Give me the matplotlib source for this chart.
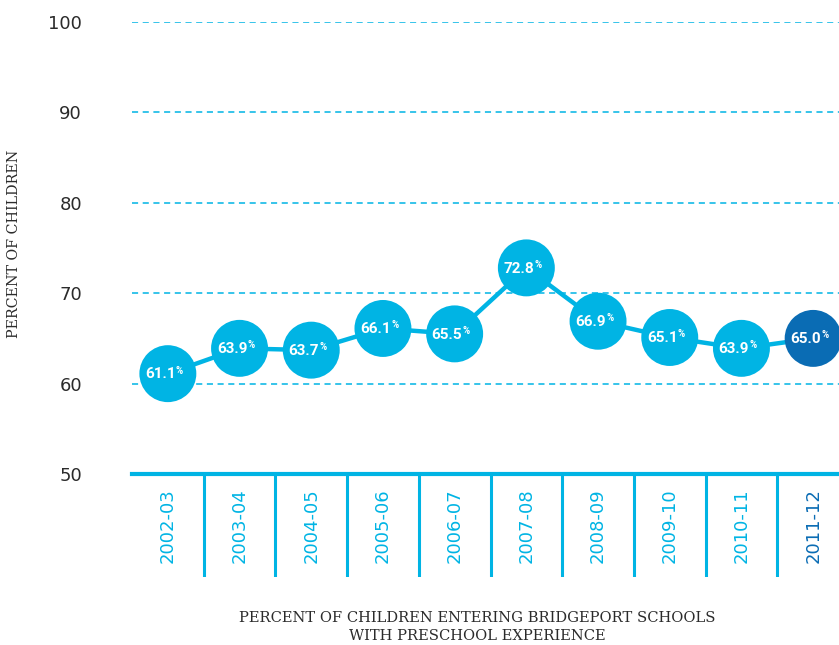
import matplotlib
matplotlib.use("Agg")
import matplotlib.pyplot as plt

years = ["2002-03", "2003-04", "2004-05", "2005-06", "2006-07",
         "2007-08", "2008-09", "2009-10", "2010-11", "2011-12"]
pct = [61.1, 63.9, 63.7, 66.1, 65.5, 72.8, 66.9, 65.1, 63.9, 65.0]
yticks = [50, 60, 70, 80, 90, 100]

CYAN = "#00b4e4"
DARK = "#0a6cb4"
TXT = "#2b2b2b"

W, H = 839, 645
fig = plt.figure(figsize=(W / 100, H / 100), dpi=100)

# main plot area: x from 132px to 849px, y from 22px (100) to 474px (50)
left, right = 132 / W, 849 / W
ax = fig.add_axes([left, (H - 474) / H, right - left, (474 - 22) / H])
ax.set_xlim(-0.5, len(years) - 0.5)
ax.set_ylim(50, 100)

for t in yticks[1:]:
    ax.axhline(t, color=CYAN, lw=1.1, ls=(0, (4, 3)), zorder=1)

xs = list(range(len(years)))
ax.plot(xs, pct, color=CYAN, lw=3.2, zorder=2, clip_on=False)
colors = [CYAN] * (len(years) - 1) + [DARK]
ax.scatter(xs, pct, s=41 ** 2, c=colors, zorder=3, clip_on=False, linewidths=0)

for x, v in zip(xs, pct):
    ax.annotate(f"{v:.1f}", (x, v), xytext=(5.5, -0.5), textcoords="offset points",
                ha="right", va="center", color="white", fontsize=11,
                family="Roboto", fontweight="bold", zorder=4)
    ax.annotate("%", (x, v), xytext=(5.8, 2.2), textcoords="offset points",
                ha="left", va="center", color="white", fontsize=7,
                family="Roboto", fontweight="bold", zorder=4)

ax.set_yticks(yticks)
ax.set_yticklabels([str(t) for t in yticks], fontsize=13, color=TXT)
ax.tick_params(axis="y", length=0, pad=36)
ax.set_xticks([])
for s in ["top", "right", "left"]:
    ax.spines[s].set_visible(False)
ax.spines["bottom"].set_color(CYAN)
ax.spines["bottom"].set_linewidth(3)

fig.text(14 / W, 1 - 244 / H, "PERCENT OF CHILDREN", rotation=90,
         ha="center", va="center", family="DejaVu Serif", fontsize=10.3, color=TXT)

# category band under the axis
band = fig.add_axes([left, (H - 577) / H, right - left, (577 - 475) / H])
band.set_xlim(-0.5, len(years) - 0.5)
band.set_ylim(0, 1)
band.axis("off")
for i in range(len(years) - 1):
    band.axvline(i + 0.5, color=CYAN, lw=2.2)
for x, lab, c in zip(xs, years, colors):
    band.text(x, 0.5, lab, rotation=90, ha="center", va="center",
              color=c, fontsize=13)

fig.text(477 / W, 1 - 618 / H, "PERCENT OF CHILDREN ENTERING BRIDGEPORT SCHOOLS",
         ha="center", va="center", family="DejaVu Serif", fontsize=10.6, color=TXT)
fig.text(477 / W, 1 - 636 / H, "WITH PRESCHOOL EXPERIENCE",
         ha="center", va="center", family="DejaVu Serif", fontsize=10.6, color=TXT)

fig.savefig("out.png", dpi=100)
